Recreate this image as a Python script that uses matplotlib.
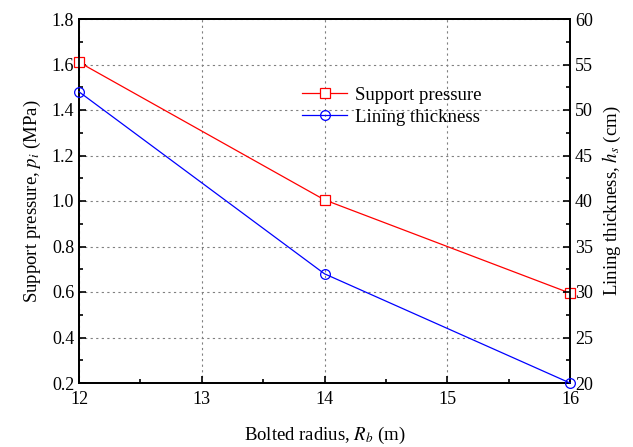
import numpy as np
import matplotlib
matplotlib.use("Agg")
import matplotlib.pyplot as plt
from matplotlib.ticker import MultipleLocator

plt.rcParams['font.family'] = ['Liberation Serif', 'DejaVu Serif']
plt.rcParams['mathtext.fontset'] = 'stix'

radius = [12, 14, 16]
pressure = [1.61, 1.005, 0.595]   # MPa
thickness = [52, 32, 20]          # cm

fig = plt.figure(figsize=(6.33, 4.47), dpi=100)
ax = fig.add_axes([79/633, 1 - 383/447, (570 - 79)/633, (383 - 19)/447])
ax2 = ax.twinx()

l1, = ax.plot(radius, pressure, color='red', lw=0.9, marker='s', ms=6.5,
              mfc='white', mec='red', mew=0.9, label='Support pressure', clip_on=False, zorder=3)
l2, = ax2.plot(radius, thickness, color='blue', lw=0.9, marker='o', ms=7,
               mfc='none', mec='blue', mew=0.9, label='Lining thickness', clip_on=False, zorder=3)

ax.set_xlim(12, 16)
ax.set_ylim(0.2, 1.8)
ax2.set_ylim(20, 60)

ax.xaxis.set_major_locator(MultipleLocator(1))
ax.xaxis.set_minor_locator(MultipleLocator(0.5))
ax.yaxis.set_minor_locator(MultipleLocator(0.1))
ax2.yaxis.set_major_locator(MultipleLocator(5))
ax2.yaxis.set_minor_locator(MultipleLocator(2.5))

ax.set_yticks(np.arange(0.2, 1.81, 0.2))
ax.set_yticklabels([f"{v:.1f}" for v in np.arange(0.2, 1.81, 0.2)])

for a in (ax, ax2):
    a.tick_params(which='both', direction='in', labelsize=13, width=1.2)
    a.tick_params(which='major', length=5)
    a.tick_params(which='minor', length=3)
    for s in a.spines.values():
        s.set_linewidth(1.3)
ax.tick_params(axis='x', pad=6)

ax.grid(True, which='major', ls=(0, (2, 3)), color='gray', lw=0.8)

ax.set_xlabel('Bolted radius, $R_b$ (m)', fontsize=13.5, labelpad=12)
ax.set_ylabel('Support pressure, $p_i$ (MPa)', fontsize=13.5, labelpad=6)
ax2.set_ylabel('Lining thickness, $h_s$ (cm)', fontsize=13.5, labelpad=6)

ax.legend(handles=[l1, l2], loc='upper left', bbox_to_anchor=(0.42, 0.86),
          frameon=False, fontsize=13.5, handlelength=2.4, handletextpad=0.4,
          labelspacing=0.25)

fig.savefig('out.png', dpi=100)
